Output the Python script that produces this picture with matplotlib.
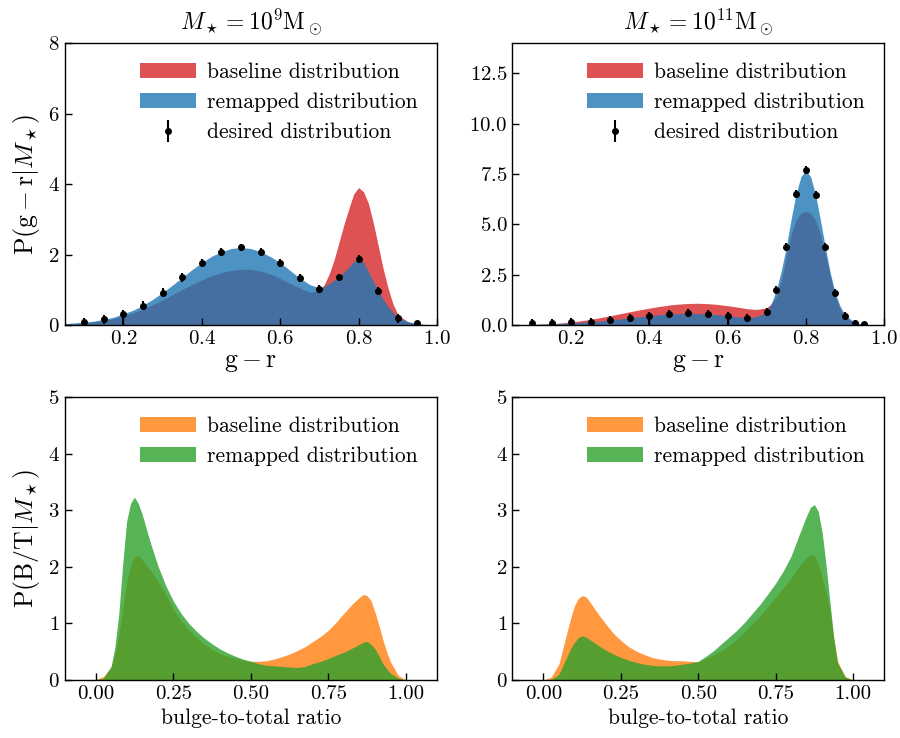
import matplotlib
matplotlib.use("Agg")
import matplotlib.pyplot as plt

# =====================================================================================
# Data
# =====================================================================================

# colour panels: shared g-r grid (finer around the red peak)
gr_x = [0.05, 0.075, 0.1, 0.125, 0.15, 0.175, 0.2, 0.225, 0.25, 0.275, 0.3, 0.325, 0.35,
        0.375, 0.4, 0.425, 0.45, 0.475, 0.5, 0.525, 0.55, 0.575, 0.6, 0.625, 0.65, 0.675,
        0.7, 0.7125, 0.725, 0.7375, 0.75, 0.7625, 0.775, 0.7875, 0.8, 0.8125, 0.825, 0.8375,
        0.85, 0.8625, 0.875, 0.8875, 0.9, 0.925, 0.95, 0.975, 1.0]

gr_base_lo = [0.02, 0.04, 0.06, 0.09, 0.12, 0.18, 0.26, 0.35, 0.45, 0.58, 0.71, 0.86, 1.01,
              1.15, 1.28, 1.40, 1.49, 1.55, 1.58, 1.58, 1.53, 1.45, 1.32, 1.18, 1.05, 0.93,
              0.98, 1.15, 1.45, 1.85, 2.35, 2.85, 3.30, 3.72, 3.90, 3.78, 3.45, 2.90,
              2.25, 1.60, 1.05, 0.60, 0.30, 0.09, 0.03, 0.01, 0.0]
gr_remap_lo = [0.04, 0.06, 0.08, 0.11, 0.16, 0.22, 0.32, 0.42, 0.56, 0.73, 0.92, 1.13, 1.35,
               1.57, 1.77, 1.95, 2.08, 2.17, 2.20, 2.17, 2.08, 1.94, 1.77, 1.55, 1.33, 1.15,
               1.05, 1.09, 1.18, 1.27, 1.37, 1.50, 1.64, 1.80, 1.88, 1.78, 1.51, 1.23,
               0.97, 0.73, 0.52, 0.35, 0.22, 0.10, 0.04, 0.01, 0.0]

gr_base_hi = [0.01, 0.02, 0.03, 0.05, 0.07, 0.10, 0.15, 0.21, 0.28, 0.37, 0.46, 0.56, 0.66,
              0.75, 0.84, 0.92, 0.99, 1.04, 1.07, 1.08, 1.06, 1.02, 0.96, 0.89, 0.81, 0.77,
              0.86, 1.05, 1.40, 2.20, 3.40, 4.50, 5.20, 5.55, 5.64, 5.55, 5.20, 4.50,
              3.55, 2.45, 1.45, 0.80, 0.42, 0.10, 0.02, 0.0, 0.0]
gr_remap_hi = [0.01, 0.02, 0.03, 0.04, 0.06, 0.08, 0.10, 0.13, 0.16, 0.20, 0.25, 0.30, 0.35,
               0.41, 0.46, 0.51, 0.55, 0.57, 0.58, 0.57, 0.55, 0.51, 0.46, 0.41, 0.36, 0.42,
               0.64, 1.10, 1.74, 2.70, 3.86, 5.25, 6.50, 7.36, 7.68, 7.36, 6.47, 5.20,
               3.86, 2.60, 1.60, 0.95, 0.50, 0.13, 0.03, 0.01, 0.0]

# desired distribution points
des_x_lo = [0.1, 0.15, 0.2, 0.25, 0.3, 0.35, 0.4, 0.45, 0.5, 0.55, 0.6, 0.65, 0.7, 0.75,
            0.8, 0.85, 0.9, 0.95]
des_y_lo = [0.08, 0.16, 0.30, 0.55, 0.92, 1.35, 1.77, 2.08, 2.20, 2.08, 1.77, 1.33, 1.02,
            1.35, 1.87, 0.97, 0.19, 0.05]
des_err_lo_minus = [0.08, 0.12, 0.30, 0.12, 0.12, 0.12, 0.11, 0.11, 0.11, 0.11, 0.11, 0.11,
                    0.11, 0.11, 0.12, 0.12, 0.12, 0.05]
des_err_lo_plus = [0.12, 0.12, 0.13, 0.12, 0.12, 0.12, 0.11, 0.11, 0.11, 0.11, 0.11, 0.11,
                   0.11, 0.11, 0.12, 0.12, 0.12, 0.06]

des_x_hi = [0.1, 0.15, 0.2, 0.25, 0.3, 0.35, 0.4, 0.45, 0.5, 0.55, 0.6, 0.65, 0.7,
            0.725, 0.75, 0.775, 0.8, 0.825, 0.85, 0.875, 0.9, 0.925, 0.95]
des_y_hi = [0.08, 0.11, 0.15, 0.17, 0.25, 0.33, 0.46, 0.53, 0.58, 0.53, 0.46, 0.33, 0.66,
            1.74, 3.86, 6.50, 7.68, 6.47, 3.86, 1.61, 0.46, 0.12, 0.03]
des_err_hi_minus = [0.08, 0.11, 0.15, 0.17, 0.2, 0.2, 0.46, 0.2, 0.2, 0.2, 0.46, 0.2, 0.2,
                    0.2, 0.2, 0.2, 0.2, 0.2, 0.2, 0.2, 0.2, 0.12, 0.03]
des_err_hi_plus = [0.2] * 21 + [0.15, 0.1]

# bulge-to-total panels
bt_x = [0.0, 0.025, 0.05, 0.0625, 0.075, 0.0875, 0.1, 0.1125, 0.125, 0.1375, 0.15, 0.175,
        0.2, 0.225, 0.25, 0.275, 0.3, 0.325, 0.35, 0.375, 0.4, 0.425, 0.45, 0.475, 0.5,
        0.525, 0.55, 0.575, 0.6, 0.625, 0.65, 0.675, 0.7, 0.725, 0.75, 0.775, 0.8, 0.825,
        0.85, 0.8625, 0.875, 0.8875, 0.9, 0.9125, 0.925, 0.9375, 0.95, 0.975, 1.0]

bt_base_lo = [0.01, 0.06, 0.22, 0.45, 0.80, 1.25, 1.72, 2.02, 2.18, 2.20, 2.12, 1.95,
              1.76, 1.52, 1.25, 1.05, 0.88, 0.75, 0.63, 0.54, 0.47, 0.42, 0.38, 0.35, 0.33,
              0.33, 0.34, 0.37, 0.41, 0.46, 0.52, 0.59, 0.68, 0.77, 0.88, 1.02, 1.18, 1.33,
              1.46, 1.51, 1.49, 1.40, 1.20, 0.97, 0.72, 0.50, 0.32, 0.08, 0.0]
bt_remap_lo = [0.0, 0.03, 0.24, 0.59, 1.18, 2.05, 2.80, 3.12, 3.23, 3.12, 2.93, 2.45,
               2.03, 1.68, 1.40, 1.18, 1.00, 0.86, 0.74, 0.64, 0.55, 0.48, 0.42, 0.37, 0.33,
               0.29, 0.26, 0.25, 0.24, 0.23, 0.22, 0.24, 0.29, 0.33, 0.38, 0.44, 0.49, 0.56,
               0.63, 0.67, 0.68, 0.63, 0.55, 0.43, 0.29, 0.20, 0.12, 0.03, 0.0]

bt_base_hi = [0.0, 0.05, 0.28, 0.55, 0.82, 1.08, 1.31, 1.44, 1.49, 1.47, 1.38, 1.18,
              1.00, 0.83, 0.70, 0.59, 0.51, 0.45, 0.40, 0.37, 0.35, 0.34, 0.34, 0.33, 0.32,
              0.38, 0.45, 0.52, 0.61, 0.72, 0.85, 1.00, 1.13, 1.30, 1.47, 1.63, 1.80, 2.00,
              2.16, 2.21, 2.20, 2.05, 1.82, 1.55, 1.25, 0.76, 0.33, 0.06, 0.0]
bt_remap_hi = [0.0, 0.01, 0.10, 0.25, 0.40, 0.55, 0.66, 0.75, 0.78, 0.76, 0.71, 0.62,
               0.53, 0.46, 0.40, 0.35, 0.31, 0.28, 0.26, 0.25, 0.25, 0.26, 0.28, 0.30, 0.33,
               0.42, 0.52, 0.64, 0.76, 0.88, 1.02, 1.18, 1.34, 1.52, 1.71, 1.93, 2.19, 2.55,
               2.90, 3.05, 3.10, 2.98, 2.62, 2.05, 1.40, 0.75, 0.30, 0.05, 0.0]

titles = [r"$M_\star = 10^9\mathrm{M}_\odot$", r"$M_\star = 10^{11}\mathrm{M}_\odot$"]

# =====================================================================================
# Style
# =====================================================================================

plt.rcParams["font.family"] = "serif"
plt.rcParams["font.serif"] = ["cmr10", "DejaVu Serif"]
plt.rcParams["mathtext.fontset"] = "cm"
plt.rcParams["axes.unicode_minus"] = False
plt.rcParams["axes.formatter.use_mathtext"] = True

FS = 15.5       # legend / plain text
FS_MATH = 18.5  # math axis labels
FS_TITLE = 17
FS_TICK = 15


def style_axis(ax):
    ax.tick_params(direction="in", length=5, width=1, labelsize=FS_TICK)
    for s in ax.spines.values():
        s.set_linewidth(1)


def colour_panel(ax, base, remap, dx, dy, dlo, dhi, title, ylim, yticks):
    ax.fill_between(gr_x, 0, base, color="tab:red", alpha=0.8, lw=0,
                    label="baseline distribution")
    ax.fill_between(gr_x, 0, remap, color="tab:blue", alpha=0.8, lw=0,
                    label="remapped distribution")
    ax.errorbar(dx, dy, yerr=[dlo, dhi], fmt="o", color="k", ms=4, elinewidth=1.5,
                capsize=0, label="desired distribution")
    ax.set_xlim(0.05, 1.0)
    ax.set_ylim(*ylim)
    ax.set_xticks([0.2, 0.4, 0.6, 0.8, 1.0])
    ax.set_yticks(yticks)
    ax.set_xlabel(r"$\mathrm{g-r}$", fontsize=FS_MATH, labelpad=2)
    ax.set_title(title, fontsize=FS_TITLE, pad=9)
    ax.legend(loc="upper right", frameon=False, fontsize=FS, handlelength=2.6,
              handletextpad=0.5)
    style_axis(ax)


def bt_panel(ax, base, remap):
    ax.fill_between(bt_x, 0, base, color="tab:orange", alpha=0.8, lw=0,
                    label="baseline distribution")
    ax.fill_between(bt_x, 0, remap, color="tab:green", alpha=0.8, lw=0,
                    label="remapped distribution")
    ax.set_xlim(-0.1, 1.1)
    ax.set_ylim(0, 5)
    ax.set_xticks([0.0, 0.25, 0.5, 0.75, 1.0])
    ax.set_xticklabels(["0.00", "0.25", "0.50", "0.75", "1.00"])
    ax.set_yticks([0, 1, 2, 3, 4, 5])
    ax.set_xlabel("bulge-to-total ratio", fontsize=FS)
    ax.legend(loc="upper right", frameon=False, fontsize=FS, handlelength=2.6,
              handletextpad=0.5)
    style_axis(ax)


# =====================================================================================
# Figure
# =====================================================================================

fig = plt.figure(figsize=(9, 7.38), dpi=100)
ax_tl = fig.add_axes([0.0717, 0.5596, 0.4139, 0.3821])
ax_tr = fig.add_axes([0.5694, 0.5596, 0.4128, 0.3821])
ax_bl = fig.add_axes([0.0717, 0.0786, 0.4139, 0.3835])
ax_br = fig.add_axes([0.5694, 0.0786, 0.4128, 0.3835])

colour_panel(ax_tl, gr_base_lo, gr_remap_lo, des_x_lo, des_y_lo, des_err_lo_minus,
             des_err_lo_plus, titles[0], (0, 8), [0, 2, 4, 6, 8])
colour_panel(ax_tr, gr_base_hi, gr_remap_hi, des_x_hi, des_y_hi, des_err_hi_minus,
             des_err_hi_plus, titles[1], (0, 14), [0, 2.5, 5, 7.5, 10, 12.5])
ax_tl.set_ylabel(r"$\mathrm{P}(\mathrm{g-r}|M_\star)$", fontsize=FS_MATH, labelpad=4)

bt_panel(ax_bl, bt_base_lo, bt_remap_lo)
bt_panel(ax_br, bt_base_hi, bt_remap_hi)
ax_bl.set_ylabel(r"$\mathrm{P}(\mathrm{B/T}|M_\star)$", fontsize=FS_MATH, labelpad=4)

fig.savefig("out.png", dpi=100)
